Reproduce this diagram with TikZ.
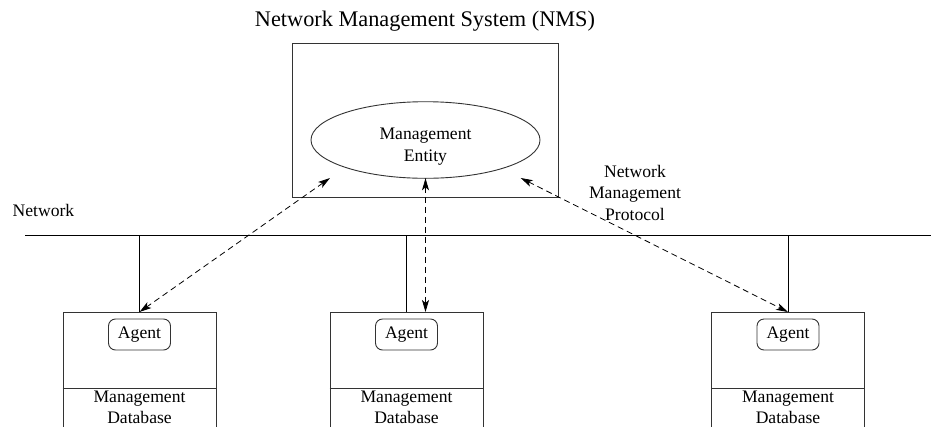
\documentclass[tikz,border=0pt]{standalone}
\usepackage{fontspec}
\setmainfont{Liberation Serif}
\usetikzlibrary{arrows.meta,shapes.geometric}
\begin{document}
\begin{tikzpicture}[x=1pt,y=-1pt,
  txt/.style={font=\fontsize{17.6}{21.5}\selectfont, align=center, inner sep=0pt, anchor=base},
  title/.style={font=\fontsize{22.3}{26}\selectfont, inner sep=0pt, anchor=base},
  frame/.style={draw=black!80, line width=0.9pt},
  hostbox/.style={frame, rectangle, minimum width=153pt, minimum height=150pt, anchor=north, inner sep=0pt},
  agentbox/.style={frame, rectangle, rounded corners=7pt, minimum width=62pt, minimum height=31pt, inner sep=0pt,
    font=\fontsize{17.6}{21.5}\selectfont},
  wire/.style={draw=black, line width=0.9pt},
  proto/.style={draw=black, line width=0.8pt, dash pattern=on 6pt off 4pt,
    {Stealth[length=12pt,width=7pt,inset=3pt]}-{Stealth[length=12pt,width=7pt,inset=3pt]}},
]
\clip (0,0) rectangle (931,426);

% management station
\node[title] (nmstitle) at (425,26) {Network Management System (NMS)};
\node[frame, rectangle, minimum width=266pt, minimum height=154pt, inner sep=0pt] (nms) at (425,120) {};
\node[frame, ellipse, minimum width=229pt, minimum height=76.6pt, inner sep=0pt] (entity) at (425.5,140) {};
% multi-line labels are anchored at the baseline of their last line
\node[txt] (entitytxt) at (425.5,161) {Management\\Entity};

% network backbone
\coordinate (netL) at (25,235);
\coordinate (netR) at (931,235);
\draw[wire] (netL) -- (netR);
\node[txt] (netlbl) at (43.5,216) {Network};
\node[txt] (protolbl) at (635,220) {Network\\Management\\Protocol};

% managed hosts
\foreach \i/\x in {1/139.5, 2/406.5, 3/788} {
  \node[hostbox] (host\i) at (\x,312) {};
  \coordinate (div\i) at (\x,388);
  \draw[frame] (host\i.west |- div\i) -- (host\i.east |- div\i);
  \node[agentbox] (agent\i) at (\x,334.5) {Agent};
  \node[txt, font=\fontsize{17.6}{20.5}\selectfont] (mdb\i) at (\x,423) {Management\\Database};
  \draw[wire] (host\i.north |- netL) -- (host\i.north);
}

% protocol exchanges
\coordinate (e1) at (330,178);
\coordinate (e2) at (425.5,178.3);
\coordinate (e3) at (520.7,178);
\coordinate (h2) at (425.5,312);
\draw[proto] (e1) -- (host1.north);
\draw[proto] (e2) -- (h2);
\draw[proto] (e3) -- (host3.north);
\end{tikzpicture}
\end{document}
